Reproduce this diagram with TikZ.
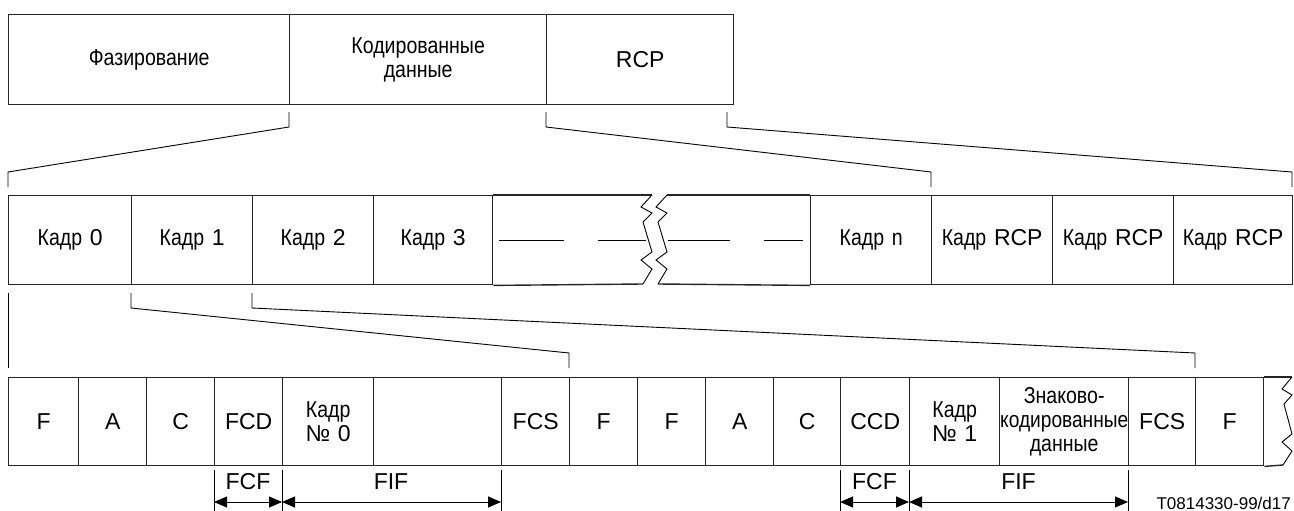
\documentclass[tikz,border=0pt]{standalone}
\usepackage{fontspec}
\setmainfont{Liberation Sans}
\newfontfamily\cy{Liberation Sans}[FakeStretch=0.85]
\usetikzlibrary{arrows.meta}
\begin{document}
\begin{tikzpicture}[x=1pt,y=-1pt,
  cell/.style 2 args={draw=black!85, line width=1.4pt, anchor=north west, inner sep=0pt,
    minimum width=#1, text width=#1, minimum height=#2,
    align=center, font=\fontsize{23}{24}\selectfont},
  frame/.style={draw=black!85, line width=1.4pt},
  brk/.style={draw=black, line width=0.9pt},
  zz/.style={draw=black, line width=0.9pt, line join=miter},
  dsh/.style={draw=black, line width=0.9pt},
  tick/.style={draw=black, line width=0.9pt},
  dim/.style={draw=black, line width=0.9pt, {Triangle[length=13pt,width=11pt]}-{Triangle[length=13pt,width=11pt]}},
  lbl/.style={font=\fontsize{23}{24}\selectfont, inner sep=0pt},
  code/.style={font=\fontsize{17}{20}\selectfont, inner sep=0pt, anchor=east}]
\useasboundingbox (0,0) rectangle (1294,511);
% ---------- Row 1 ----------
\node[cell={281pt}{90pt}] (fz) at (8,14) {\cy Фазирование};
\node[cell={257pt}{90pt}] (kd) at (289,14) {\cy Кодированные\\\cy данные};
\node[cell={187pt}{90pt}] (rcp) at (546,14) {RCP};
% ---------- Row 2 ----------
\node[cell={123pt}{89pt}] (k0) at (8,195) {{\cy Кадр} 0\hspace{10pt}};
\node[cell={121pt}{89pt}] (k1) at (131,195) {{\cy Кадр} 1\hspace{10pt}};
\node[cell={121pt}{89pt}] (k2) at (252,195) {{\cy Кадр} 2\hspace{10pt}};
\node[cell={119pt}{89pt}] (k3) at (373,195) {{\cy Кадр} 3\hspace{10pt}};
\node[cell={121pt}{89pt}] (kn) at (810,195) {{\cy Кадр n}};
\node[cell={121pt}{89pt}] (kr1) at (931,195) {{\cy Кадр} RCP};
\node[cell={121pt}{89pt}] (kr2) at (1052,195) {{\cy Кадр} RCP};
\node[cell={119pt}{89pt}] (kr3) at (1173,195) {{\cy Кадр} RCP};
% broken section
\coordinate (bt1) at (652,195); \coordinate (bb1) at (643,284);
\coordinate (bt2) at (667,195); \coordinate (bb2) at (658,284);
\draw[frame] (k3.north east) -- (bt1);
\draw[frame] (k3.south east) -- (bb1);
\draw[frame] (bt2) -- (kn.north west);
\draw[frame] (bb2) -- (kn.south west);
\draw[zz] (bt1) -- ++(-11,12) -- ++(11,6) -- ++(-9,9) -- ++(9,30) -- ++(-11,8) -- ++(11,9) -- (bb1);
\draw[zz] (bt2) -- ++(-11,12) -- ++(11,6) -- ++(-9,9) -- ++(9,30) -- ++(-11,8) -- ++(11,9) -- (bb2);
% dashes
\coordinate (d1a) at (499,240); \coordinate (d1b) at (564,240);
\coordinate (d2a) at (598,240); \coordinate (d2b) at (646,240);
\coordinate (d3a) at (668,240); \coordinate (d3b) at (730,240);
\coordinate (d4a) at (764,240); \coordinate (d4b) at (803,240);
\draw[dsh] (d1a) -- (d1b);
\draw[dsh] (d2a) -- (d2b);
\draw[dsh] (d3a) -- (d3b);
\draw[dsh] (d4a) -- (d4b);
% ---------- Row 3 ----------
\node[cell={70pt}{88pt}] (c1) at (8,377) {F};
\node[cell={68pt}{88pt}] (c2) at (78,377) {A};
\node[cell={68pt}{88pt}] (c3) at (146,377) {C};
\node[cell={68pt}{88pt}] (c4) at (214,377) {FCD};
\node[cell={91pt}{88pt}] (c5) at (282,377) {{\cy Кадр}\\№ 0};
\node[cell={128pt}{88pt}] (c6) at (373,377) {};
\node[cell={68pt}{88pt}] (c7) at (501,377) {FCS};
\node[cell={68pt}{88pt}] (c8) at (569,377) {F};
\node[cell={68pt}{88pt}] (c9) at (637,377) {F};
\node[cell={68pt}{88pt}] (c10) at (705,377) {A};
\node[cell={67pt}{88pt}] (c11) at (773,377) {C};
\node[cell={69pt}{88pt}] (c12) at (840,377) {CCD};
\node[cell={90pt}{88pt}] (c13) at (909,377) {{\cy Кадр}\\№ 1};
\node[cell={129pt}{88pt}] (c14) at (999,377) {{\cy Знаково-}\\{\cy\fontsize{22.5}{24}\selectfont кодированные}\\{\cy данные}};
\node[cell={67pt}{88pt}] (c15) at (1128,377) {FCS};
\node[cell={68pt}{88pt}] (c16) at (1195,377) {F};
\coordinate (zt) at (1292,377); \coordinate (zb) at (1283,465);
\draw[frame] (c16.north east) -- (zt);
\draw[frame] (c16.south east) -- (zb);
\draw[zz] (zt) -- ++(-10,12) -- ++(10,6) -- ++(-8,9) -- ++(8,30) -- ++(-10,8) -- ++(10,9) -- (zb);
% ---------- Brackets row1 -> row2 ----------
\coordinate (a1) at (289,112); \coordinate (a2) at (289,127); \coordinate (a3) at (8,172); \coordinate (a4) at (8,187);
\coordinate (b1) at (546,112); \coordinate (b2) at (546,127); \coordinate (b3) at (931,172); \coordinate (b4) at (931,187);
\coordinate (e1) at (727,112); \coordinate (e2) at (727,127); \coordinate (e3) at (1292,172); \coordinate (e4) at (1292,187);
\draw[brk] (a1) -- (a2) -- (a3) -- (a4);
\draw[brk] (b1) -- (b2) -- (b3) -- (b4);
\draw[brk] (e1) -- (e2) -- (e3) -- (e4);
% ---------- Brackets row2 -> row3 ----------
\coordinate (f1) at (8,293); \coordinate (f2) at (8,368);
\coordinate (g1) at (131,293); \coordinate (g2) at (131,308); \coordinate (g3) at (569,353); \coordinate (g4) at (569,368);
\coordinate (h1) at (252,293); \coordinate (h2) at (252,308); \coordinate (h3) at (1195,353); \coordinate (h4) at (1195,368);
\draw[brk] (f1) -- (f2);
\draw[brk] (g1) -- (g2) -- (g3) -- (g4);
\draw[brk] (h1) -- (h2) -- (h3) -- (h4);
% ---------- Dimension lines ----------
\foreach \n/\x in {p1/214, p2/282, p3/501, q1/840, q2/909, q3/1128} {
  \coordinate (\n t) at (\x,470);
  \coordinate (\n b) at (\x,511);
  \coordinate (\n m) at (\x,502);
  \draw[tick] (\n t) -- (\n b);
}
\draw[dim] (p1m) -- (p2m);
\draw[dim] (p2m) -- (p3m);
\draw[dim] (q1m) -- (q2m);
\draw[dim] (q2m) -- (q3m);
\node[lbl] (fcf1) at (248,482) {FCF};
\node[lbl] (fif1) at (391,482) {FIF};
\node[lbl] (fcf2) at (874.5,482) {FCF};
\node[lbl] (fif2) at (1018.5,482) {FIF};
\node[code] (id) at (1291,503) {T0814330-99/d17};
\end{tikzpicture}
\end{document}
